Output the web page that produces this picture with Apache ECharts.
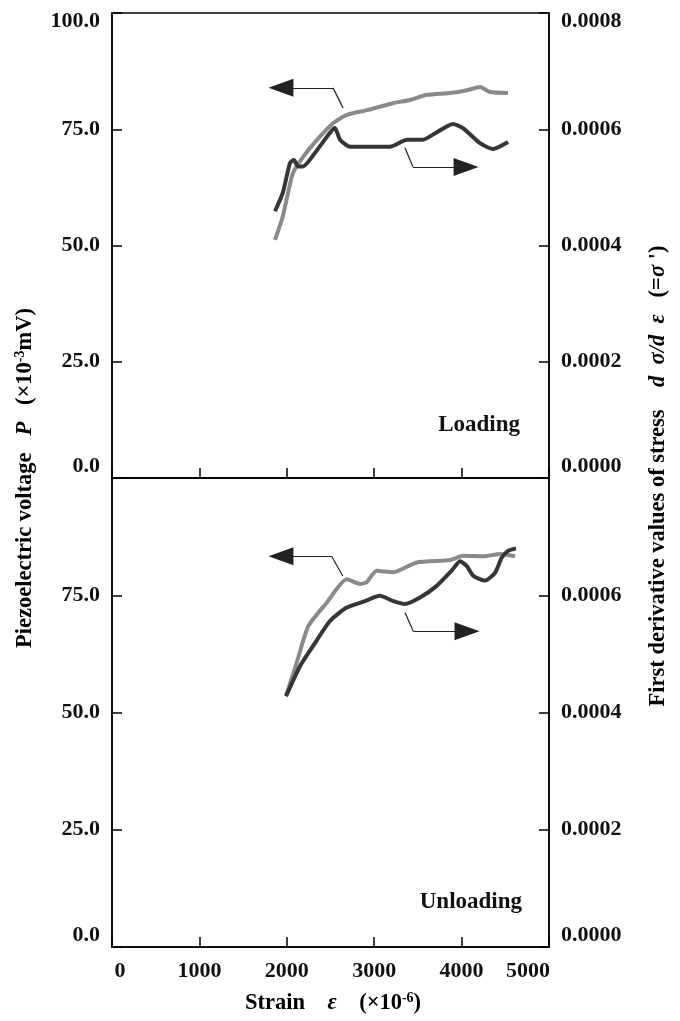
<!DOCTYPE html>
<html>
<head>
<meta charset="utf-8">
<script src="https://cdn.jsdelivr.net/npm/echarts@6/dist/echarts.min.js"></script>
<style>
  html, body { margin: 0; padding: 0; background: #fff; }
  #main { width: 680px; height: 1021px; }
</style>
</head>
<body>
<div id="main"></div>
<script>
// loading: piezoelectric voltage P (x10^-3 mV), left axis
var loadPStrain = [1865, 1953, 2014, 2071, 2185, 2345, 2529, 2689, 2918, 3215, 3410, 3604, 3867, 4062, 4211, 4325, 4531];
var loadP = [51.2, 56.2, 61.3, 65.6, 69.0, 72.7, 76.3, 78.1, 79.1, 80.6, 81.3, 82.4, 82.8, 83.4, 84.1, 83.0, 82.8];
// loading: first derivative of stress, right axis
var loadDStrain = [1865, 1953, 2037, 2082, 2128, 2185, 2345, 2494, 2551, 2609, 2723, 3181, 3375, 3558, 3718, 3902, 4016, 4211, 4360, 4531];
var loadD = [0.000459, 0.000490, 0.000542, 0.000547, 0.000536, 0.000536, 0.000564, 0.000594, 0.000602, 0.000582,
             0.000570, 0.000570, 0.000582, 0.000582, 0.000595, 0.000609, 0.000602, 0.000576, 0.000566, 0.000578];
// unloading
var unloadPStrain = [1991, 2113, 2246, 2456, 2685, 2838, 2914, 3028, 3219, 3486, 3867, 4020, 4249, 4439, 4611];
var unloadP = [53.5, 60.6, 68.4, 73.4, 78.4, 77.4, 77.8, 80.2, 79.9, 82.0, 82.5, 83.4, 83.3, 83.8, 83.3];
var unloadDStrain = [1991, 2151, 2303, 2494, 2685, 2876, 3066, 3219, 3352, 3524, 3715, 3887, 3982, 4058, 4135, 4268, 4382, 4459, 4535, 4622];
var unloadD = [0.000428, 0.000479, 0.000514, 0.000556, 0.000579, 0.000589, 0.000599, 0.000590, 0.000585, 0.000596,
               0.000616, 0.000642, 0.000658, 0.000650, 0.000633, 0.000625, 0.000638, 0.000664, 0.000676, 0.000680];

// arrow callouts, in (strain, P) data space: start, corner, head
var loadArrowP = [[2643, 79.6], [2529, 83.9], [1933, 83.9]];
var loadArrowD = [[3352, 71.0], [3444, 66.9], [4051, 66.9]];
var unloadArrowP = [[2640, 79.1], [2513, 83.3], [1933, 83.3]];
var unloadArrowD = [[3352, 71.3], [3447, 67.3], [4062, 67.3]];

var FONT = "'Liberation Serif', 'Times New Roman', serif";
var GRAY = '#8a8a8a', DARK = '#363636';

function zip(xs, ys) { return xs.map(function (x, i) { return [x, ys[i]]; }); }

function arrowLines(pts) {
  return [
    [{ coord: pts[0], symbol: 'none' }, { coord: pts[1], symbol: 'none' }],
    [{ coord: pts[1], symbol: 'none' }, { coord: pts[2], symbol: 'triangle', symbolSize: [18, 25] }]
  ];
}

var lblBase = { fontFamily: FONT, fontWeight: 'bold', fontSize: 22, color: '#111' };
function richEdge() {
  return {
    lo: Object.assign({ padding: [0, 0, 24, 0] }, lblBase),
    hi: Object.assign({ padding: [16, 0, 0, 0] }, lblBase),
    xl: Object.assign({ padding: [0, 0, 0, 16] }, lblBase),
    xr: Object.assign({ padding: [0, 42, 0, 0] }, lblBase)
  };
}

function yAxisCfg(gi, pos, max, digits, showTop) {
  return {
    type: 'value', gridIndex: gi, position: pos, min: 0, max: max, interval: max / 4,
    axisLine: { show: true, lineStyle: { color: '#000', width: 1.5 } },
    axisTick: { show: true, inside: true, length: 10, lineStyle: { color: '#000', width: 1.5 } },
    splitLine: { show: false },
    axisLabel: Object.assign({
      margin: 12,
      rich: richEdge(),
      formatter: function (v) {
        var s = v.toFixed(digits);
        if (Math.abs(v) < 1e-12) return '{lo|' + s + '}';
        if (Math.abs(v - max) < max * 1e-6) return showTop ? '{hi|' + s + '}' : '';
        return s;
      }
    }, lblBase)
  };
}

function xAxisCfg(gi, showLabels) {
  return {
    type: 'value', gridIndex: gi, min: 0, max: 5000, interval: 1000,
    axisLine: { show: true, lineStyle: { color: '#000', width: 1.5 } },
    axisTick: { show: true, inside: true, length: 10, lineStyle: { color: '#000', width: 1.5 } },
    splitLine: { show: false },
    axisLabel: Object.assign({
      show: showLabels, margin: 13,
      rich: richEdge(),
      formatter: function (v) {
        if (v === 0) return '{xl|0}';
        if (v === 5000) return '{xr|5000}';
        return String(v);
      }
    }, lblBase)
  };
}

function lineSeries(name, xi, yi, data, color, arrows) {
  var s = {
    name: name, type: 'line', xAxisIndex: xi, yAxisIndex: yi, data: data,
    showSymbol: false, smooth: 0.2, animation: false, silent: true,
    lineStyle: { color: color, width: 4 }, itemStyle: { color: color }
  };
  if (arrows) {
    s.markLine = {
      silent: true, animation: false, symbol: ['none', 'none'],
      label: { show: false },
      lineStyle: { color: '#222', width: 1.2, type: 'solid' },
      itemStyle: { color: '#000' },
      emphasis: { disabled: true },
      data: arrows
    };
  }
  return s;
}

var TS = 22.5;
var titleRich = {
  b: { fontFamily: FONT, fontWeight: 'bold', fontSize: TS, color: '#111' },
  bi: { fontFamily: FONT, fontWeight: 'bold', fontStyle: 'italic', fontSize: TS, color: '#111' },
  i: { fontFamily: FONT, fontStyle: 'italic', fontWeight: 'bold', fontSize: TS, color: '#111' },
  sup: { fontFamily: FONT, fontWeight: 'bold', fontSize: 14, color: '#111', verticalAlign: 'top', padding: [0, 0, 8, 0] }
};

var myChart = echarts.init(document.getElementById('main'), null, { renderer: 'canvas' });
var option = {
  backgroundColor: '#fff',
  animation: false,
  grid: [
    { left: 112, top: 13, width: 437, height: 465, show: true, borderColor: '#000', borderWidth: 1.5, backgroundColor: 'transparent' },
    { left: 112, top: 478, width: 437, height: 469, show: true, borderColor: '#000', borderWidth: 1.5, backgroundColor: 'transparent' }
  ],
  xAxis: [xAxisCfg(0, false), xAxisCfg(1, true)],
  yAxis: [
    yAxisCfg(0, 'left', 100, 1, true),
    yAxisCfg(0, 'right', 0.0008, 4, true),
    yAxisCfg(1, 'left', 100, 1, false),
    yAxisCfg(1, 'right', 0.0008, 4, false)
  ],
  series: [
    lineSeries('Loading P', 0, 0, zip(loadPStrain, loadP), GRAY, arrowLines(loadArrowP).concat(arrowLines(loadArrowD))),
    lineSeries('Loading dσ/dε', 0, 1, zip(loadDStrain, loadD), DARK),
    lineSeries('Unloading P', 1, 2, zip(unloadPStrain, unloadP), GRAY, arrowLines(unloadArrowP).concat(arrowLines(unloadArrowD))),
    lineSeries('Unloading dσ/dε', 1, 3, zip(unloadDStrain, unloadD), DARK)
  ],
  graphic: [
    { type: 'text', x: 520, y: 425, silent: true,
      style: { text: 'Loading', align: 'right', verticalAlign: 'middle', fontFamily: FONT, fontWeight: 'bold', fontSize: 23, fill: '#111' } },
    { type: 'text', x: 522, y: 902, silent: true,
      style: { text: 'Unloading', align: 'right', verticalAlign: 'middle', fontFamily: FONT, fontWeight: 'bold', fontSize: 23, fill: '#111' } },
    { type: 'text', x: 25, y: 478, rotation: Math.PI / 2, silent: true,
      style: { text: '{b|Piezoelectric voltage   }{bi|P}{b|   (×10}{sup|-3}{b|mV)}', rich: titleRich,
               align: 'center', verticalAlign: 'middle' } },
    { type: 'text', x: 658, y: 476, rotation: Math.PI / 2, silent: true,
      style: { text: "{b|First derivative values of stress    }{i|d  σ/d  ε}{b|   (=}{i|σ}{b| ')}", rich: titleRich,
               align: 'center', verticalAlign: 'middle' } },
    { type: 'text', x: 333, y: 1003, silent: true,
      style: { text: '{b|Strain    }{i|ε}{b|    (×10}{sup|-6}{b|)}', rich: titleRich,
               align: 'center', verticalAlign: 'middle' } }
  ]
};
myChart.setOption(option);
</script>
</body>
</html>
